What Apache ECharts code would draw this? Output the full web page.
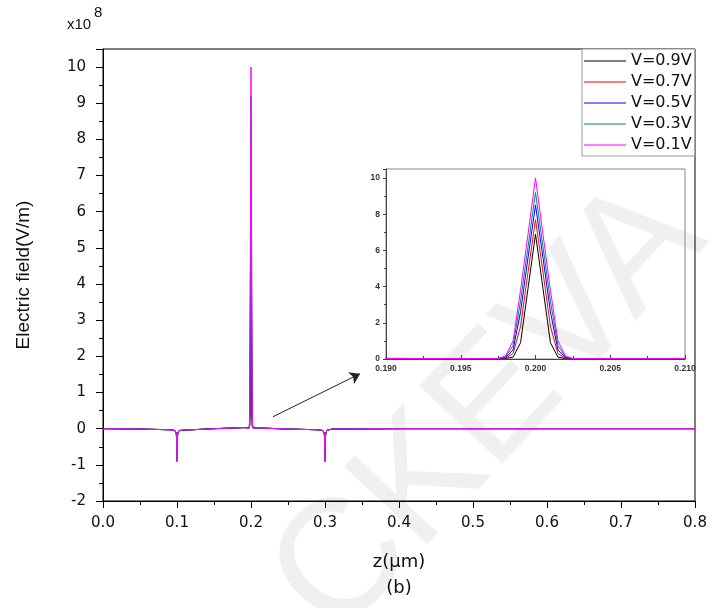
<!DOCTYPE html>
<html><head><meta charset="utf-8">
<script src="https://cdn.jsdelivr.net/npm/echarts@6/dist/echarts.min.js"></script>
<style>html,body{margin:0;padding:0;background:#fff}#c{width:722px;height:608px}</style>
</head><body><div id="c"></div>
<script>
// z positions (µm)
const zValues = [0, 0.05, 0.09, 0.097, 0.099, 0.0997, 0.1, 0.1003, 0.101, 0.103, 0.11, 0.15, 0.19,
  0.1975, 0.198, 0.1985, 0.199, 0.1995, 0.2, 0.2005, 0.201, 0.2015, 0.202, 0.2025,
  0.21, 0.25, 0.29, 0.297, 0.299, 0.2997, 0.3, 0.3003, 0.301, 0.303, 0.31, 0.4, 0.6, 0.8];

const seriesNames = ['V=0.9V', 'V=0.7V', 'V=0.5V', 'V=0.3V', 'V=0.1V'];
const seriesColors = ['#000000', '#ff0000', '#0000ff', '#008080', '#ff00ff'];

// Electric field (x10^8 V/m)
const fieldV09 = [0, -0.01, -0.03, -0.05, -0.12, -0.35, -0.9, -0.35, -0.12, -0.05, -0.04, 0.0, 0.03,
  0.02, 0.03, 0.1, 0.9, 3.9, 6.9, 3.9, 0.9, 0.1, 0.03, 0.02,
  0.02, -0.01, -0.03, -0.05, -0.12, -0.35, -0.9, -0.35, -0.12, -0.04, -0.01, 0, 0, 0];
const fieldV07 = [0, -0.01, -0.03, -0.05, -0.12, -0.35, -0.9, -0.35, -0.12, -0.05, -0.04, 0.0, 0.03,
  0.02, 0.05, 0.3, 1.8, 4.8, 7.7, 4.8, 1.8, 0.3, 0.05, 0.02,
  0.02, -0.01, -0.03, -0.05, -0.12, -0.35, -0.9, -0.35, -0.12, -0.04, -0.01, 0, 0, 0];
const fieldV05 = [0, -0.01, -0.03, -0.05, -0.12, -0.35, -0.9, -0.35, -0.12, -0.05, -0.04, 0.0, 0.03,
  0.02, 0.08, 0.5, 2.6, 5.6, 8.5, 5.6, 2.6, 0.5, 0.08, 0.02,
  0.02, -0.01, -0.03, -0.05, -0.12, -0.35, -0.9, -0.35, -0.12, -0.04, -0.01, 0, 0, 0];
const fieldV03 = [0, -0.01, -0.03, -0.05, -0.12, -0.35, -0.9, -0.35, -0.12, -0.05, -0.04, 0.0, 0.03,
  0.02, 0.12, 0.75, 3.2, 6.2, 9.2, 6.2, 3.2, 0.75, 0.12, 0.02,
  0.02, -0.01, -0.03, -0.05, -0.12, -0.35, -0.9, -0.35, -0.12, -0.04, -0.01, 0, 0, 0];
const fieldV01 = [0, -0.01, -0.03, -0.05, -0.12, -0.35, -0.9, -0.35, -0.12, -0.05, -0.04, 0.0, 0.03,
  0.02, 0.18, 1.0, 3.8, 6.9, 10.0, 6.9, 3.8, 1.0, 0.18, 0.02,
  0.02, -0.01, -0.03, -0.05, -0.12, -0.35, -0.9, -0.35, -0.12, -0.04, -0.01, 0, 0, 0];

const fieldSets = [fieldV09, fieldV07, fieldV05, fieldV03, fieldV01];

// annotation arrow in main-plot data coordinates
const arrowFrom = [0.2297, 0.33];
const arrowTo = [0.3473, 1.52];

const SANS = 'Liberation Sans, Arial, sans-serif';
const WIDE = 'DejaVu Sans, sans-serif';

function pairs(vals) { return zValues.map((z, i) => [z, vals[i]]); }

const series = [];
fieldSets.forEach((vals, k) => {
  series.push({
    name: seriesNames[k], type: 'line', xAxisIndex: 0, yAxisIndex: 0,
    data: pairs(vals), showSymbol: false, symbol: 'none',
    lineStyle: { color: seriesColors[k], width: 1 }, itemStyle: { color: seriesColors[k] },
    z: 3 + k, animation: false
  });
});
fieldSets.forEach((vals, k) => {
  series.push({
    name: seriesNames[k], type: 'line', xAxisIndex: 1, yAxisIndex: 1,
    data: pairs(vals), showSymbol: false, symbol: 'none',
    lineStyle: { color: seriesColors[k], width: 1 }, itemStyle: { color: seriesColors[k] },
    z: 3 + k, animation: false
  });
});
series[0].markLine = {
  silent: true, animation: false, symbol: ['none', 'arrow'], symbolSize: 10,
  label: { show: false },
  lineStyle: { color: '#222', width: 1, type: 'solid' },
  itemStyle: { color: '#222' },
  data: [[{ coord: arrowFrom }, { coord: arrowTo }]]
};

const option = {
  animation: false,
  backgroundColor: '#fff',
  graphic: [
    { type: 'text', x: 490, y: 410, z: -10, silent: true, rotation: 0.82,
      style: { text: 'CKEVA', font: '165px ' + SANS, fill: '#f0f0f0',
        align: 'center', verticalAlign: 'middle', textAlign: 'center', textVerticalAlign: 'middle' } },
    { type: 'text', left: 67, top: 17, style: { text: 'x10', font: '15px ' + SANS, fill: '#111' } },
    { type: 'text', left: 94, top: 5, style: { text: '8', font: '15px ' + SANS, fill: '#111' } }
  ],
  grid: [
    { left: 103, top: 49, right: 27, bottom: 107, show: true, borderColor: '#000', borderWidth: 1, backgroundColor: 'transparent' },
    { left: 386, top: 169, right: 37, bottom: 249, show: true, borderColor: '#888', borderWidth: 1, backgroundColor: 'transparent' }
  ],
  legend: {
    data: seriesNames, orient: 'vertical', left: 582, top: 49,
    padding: [4, 3, 3, 2], itemWidth: 42, itemHeight: 2, itemGap: 5, icon: 'rect',
    itemStyle: { opacity: 0.5 },
    borderColor: '#999', borderWidth: 1, backgroundColor: '#fff',
    textStyle: { fontSize: 16, lineHeight: 16, color: '#111', fontFamily: WIDE }
  },
  xAxis: [
    { gridIndex: 0, type: 'value', min: 0, max: 0.8, interval: 0.1,
      axisLine: { show: true, onZero: false, lineStyle: { color: '#000', width: 1 } },
      axisTick: { show: true, length: 7, lineStyle: { color: '#000' } },
      minorTick: { show: true, splitNumber: 2, length: 4, lineStyle: { color: '#000' } },
      splitLine: { show: false }, minorSplitLine: { show: false },
      axisLabel: { fontSize: 15, color: '#111', fontFamily: WIDE, margin: 15, formatter: v => v.toFixed(1) },
      name: 'z(μm)\n(b)', nameLocation: 'middle', nameGap: 48,
      nameTextStyle: { fontSize: 18, lineHeight: 26, color: '#111', fontFamily: WIDE }
    },
    { gridIndex: 1, type: 'value', min: 0.19, max: 0.21, interval: 0.005,
      axisLine: { show: true, onZero: false, lineStyle: { color: '#444', width: 1 } },
      axisTick: { show: true, inside: true, length: 4, lineStyle: { color: '#444' } },
      minorTick: { show: true, splitNumber: 2, length: 3, lineStyle: { color: '#444' } },
      splitLine: { show: false },
      axisLabel: { fontSize: 8.5, fontWeight: 'bold', color: '#333', fontFamily: SANS, margin: 5, formatter: v => v.toFixed(3) }
    }
  ],
  yAxis: [
    { gridIndex: 0, type: 'value', min: -2, max: 10.5, interval: 1,
      axisLine: { show: true, onZero: false, lineStyle: { color: '#000', width: 1 } },
      axisTick: { show: true, length: 7, lineStyle: { color: '#000' } },
      minorTick: { show: true, splitNumber: 2, length: 4, lineStyle: { color: '#000' } },
      splitLine: { show: false },
      axisLabel: { fontSize: 15, color: '#111', fontFamily: WIDE, margin: 17,
        formatter: v => (Math.abs(v - Math.round(v)) < 1e-9 ? String(Math.round(v)) : '') },
      name: 'Electric field(V/m)', nameLocation: 'middle', nameGap: 70, nameRotate: 90,
      nameTextStyle: { fontSize: 19, color: '#111', fontFamily: SANS }
    },
    { gridIndex: 1, type: 'value', min: 0, max: 10.5, interval: 2,
      axisLine: { show: true, onZero: false, lineStyle: { color: '#444', width: 1 } },
      axisTick: { show: true, length: 3, lineStyle: { color: '#444' } },
      minorTick: { show: true, splitNumber: 2, length: 2, lineStyle: { color: '#444' } },
      splitLine: { show: false },
      axisLabel: { fontSize: 8.5, fontWeight: 'bold', color: '#333', fontFamily: SANS, margin: 6,
        formatter: v => (Math.abs(v - Math.round(v)) < 1e-9 ? String(Math.round(v)) : '') }
    }
  ],
  series: series
};

const chart = echarts.init(document.getElementById('c'), null, { renderer: 'canvas' });
chart.setOption(option);
</script>
</body></html>
